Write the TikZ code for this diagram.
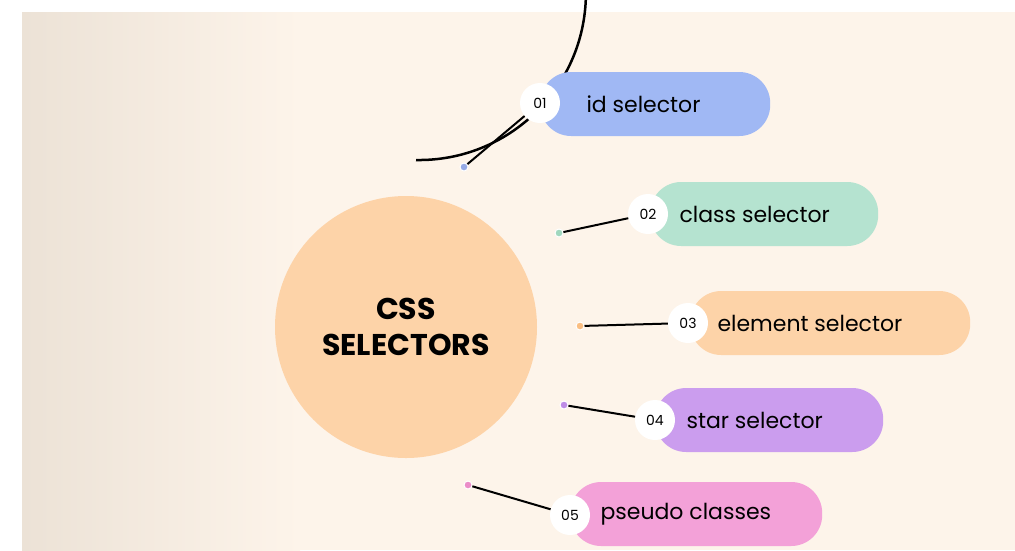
\documentclass[tikz,border=0pt]{standalone}
\usepackage{fontspec}
\setmainfont{Poppins}
\definecolor{bgA}{RGB}{236,226,214}
\definecolor{bgB}{RGB}{253,244,234}
\definecolor{cOr}{RGB}{253,211,168}
\definecolor{cBl}{RGB}{160,184,244}
\definecolor{cGr}{RGB}{181,227,208}
\definecolor{cPu}{RGB}{203,157,238}
\definecolor{cPi}{RGB}{243,161,216}
\definecolor{dBl}{RGB}{150,170,230}
\definecolor{dGr}{RGB}{160,215,190}
\definecolor{dOr}{RGB}{250,190,130}
\definecolor{dPu}{RGB}{190,140,230}
\definecolor{dPi}{RGB}{235,140,200}
\begin{document}
\begin{tikzpicture}[x=1pt,y=-1pt,
  pill/.style={rounded corners=31pt,minimum height=64pt,anchor=west,inner sep=0pt},
  num/.style={circle,fill=white,minimum size=40pt,inner sep=0pt,font=\fontsize{14}{16}\selectfont},
  lab/.style={font=\fontsize{22}{26}\selectfont,anchor=west},
  dot/.style={circle,inner sep=0pt,minimum size=8pt,draw=white,line width=1pt},
  conn/.style={line width=2pt}]
\useasboundingbox (0,0) rectangle (1015,550);
\fill[white] (0,0) rectangle (1015,550);
\fill[left color=bgA,right color=bgB] (22,12) rectangle (300,550);
\fill[bgB] (300,12) rectangle (1015,550);
\fill[cOr] (406,327) circle (131);
\node[align=center,font=\bfseries\fontsize{30}{36}\selectfont] (t) at (406,327) {CSS\\SELECTORS};
\draw[line width=2.5pt] (416,160) arc[start angle=91,end angle=-91,radius=167];
\node[pill,fill=cBl,minimum width=230pt] (p1) at (540,104) {};
\node[pill,fill=cGr,minimum width=228pt] (p2) at (650,214) {};
\node[pill,fill=cOr,minimum width=280pt] (p3) at (690,323) {};
\node[pill,fill=cPu,minimum width=228pt] (p4) at (655,420) {};
\node[pill,fill=cPi,minimum width=252pt] (p5) at (570,514) {};
\node[lab] at (583,104) {id selector};
\node[lab] at (676,214) {class selector};
\node[lab] at (714,323) {element selector};
\node[lab] at (683,420) {star selector};
\node[lab] at (597,514) {pseudo classes};
\node[dot,fill=dBl] (d1) at (464,167) {};
\node[dot,fill=dGr] (d2) at (559,233) {};
\node[dot,fill=dOr] (d3) at (580,326) {};
\node[dot,fill=dPu] (d4) at (564,405) {};
\node[dot,fill=dPi] (d5) at (468,485) {};
\node[num] (n1) at (540,103) {01};
\node[num] (n2) at (648,214) {02};
\node[num] (n3) at (688,323) {03};
\node[num] (n4) at (655,420) {04};
\node[num] (n5) at (570,515) {05};
\draw[conn] (d1) -- (n1);
\draw[conn] (d2) -- (n2);
\draw[conn] (d3) -- (n3);
\draw[conn] (d4) -- (n4);
\draw[conn] (d5) -- (n5);
\end{tikzpicture}
\end{document}
